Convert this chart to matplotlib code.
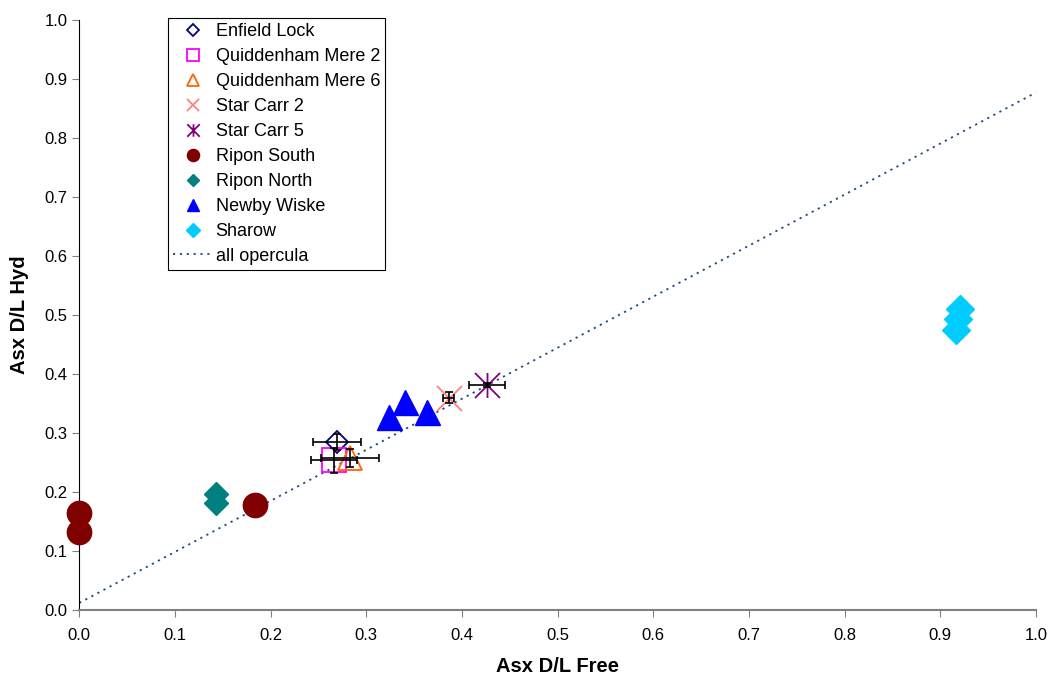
import matplotlib
matplotlib.use('Agg')
import matplotlib.pyplot as plt
from matplotlib.path import Path

plt.rcParams['font.family'] = ['Liberation Sans', 'DejaVu Sans']

# --- datos ---
enfield_x = [0.269]
enfield_y = [0.285]
enfield_xerr = [0.025]
enfield_yerr = [0.013]

qm2_x = [0.266]
qm2_y = [0.254]
qm2_xerr = [0.024]
qm2_yerr = [0.021]

qm6_x = [0.283]
qm6_y = [0.258]
qm6_xerr = [0.030]
qm6_yerr = [0.015]

sc2_x = [0.386]
sc2_y = [0.360]
sc2_xerr = [0.006]
sc2_yerr = [0.009]

sc5_x = [0.426]
sc5_y = [0.381]
sc5_xerr = [0.019]
sc5_yerr = [0.003]

ripon_s_x = [0.0, 0.0, 0.184]
ripon_s_y = [0.164, 0.132, 0.178]

ripon_n_x = [0.143, 0.143]
ripon_n_y = [0.197, 0.182]

newby_x = [0.324, 0.340, 0.364]
newby_y = [0.327, 0.352, 0.335]

sharow_x = [0.921, 0.919, 0.917]
sharow_y = [0.511, 0.493, 0.475]

# linea "all opercula"
linea_x = [0.0, 1.0]
linea_y = [0.012, 0.877]

# marcador asterisco (X + linea vertical) como en Excel
asterisco = Path([(-1, -1), (1, 1), (-1, 1), (1, -1), (0, -1), (0, 1)],
                 [Path.MOVETO, Path.LINETO, Path.MOVETO, Path.LINETO, Path.MOVETO, Path.LINETO])

fig = plt.figure(figsize=(10.5, 6.76), dpi=100)
ax = fig.add_axes([0.0755, 0.0976, 0.911, 0.8728])

ax.plot(enfield_x, enfield_y, linestyle='none', marker='D', ms=11.5, mfc='none',
        mec='#000080', mew=1.3, label='Enfield Lock', zorder=3)
ax.plot(qm2_x, qm2_y, linestyle='none', marker='s', ms=17, mfc='none',
        mec='#FF00FF', mew=1.3, label='Quiddenham Mere 2', zorder=3)
ax.plot(qm6_x, qm6_y, linestyle='none', marker='^', ms=17, mfc='none',
        mec='#FF6600', mew=1.3, label='Quiddenham Mere 6', zorder=3)
ax.plot(sc2_x, sc2_y, linestyle='none', marker='x', ms=18, mec='#FF8080',
        mew=1.3, label='Star Carr 2', zorder=3)
ax.plot(sc5_x, sc5_y, linestyle='none', marker=asterisco, ms=18, mec='#800080',
        mew=1.3, label='Star Carr 5', zorder=3)
ax.plot(ripon_s_x, ripon_s_y, linestyle='none', marker='o', ms=17.5, color='#800000',
        label='Ripon South', zorder=3, clip_on=False)
ax.plot(ripon_n_x, ripon_n_y, linestyle='none', marker='D', ms=12.7, color='#008080',
        label='Ripon North', zorder=3)
ax.plot(newby_x, newby_y, linestyle='none', marker='^', ms=18, color='#0000FF',
        label='Newby Wiske', zorder=3)
ax.plot(sharow_x, sharow_y, linestyle='none', marker='D', ms=14, color='#00CCFF',
        label='Sharow', zorder=3)
ax.plot(linea_x, linea_y, linestyle=(0, (1.2, 2.6)), color='#1F497D', lw=1.3,
        label='all opercula', zorder=2)

# barras de error
for xs, ys, xe, ye in [(enfield_x, enfield_y, enfield_xerr, enfield_yerr),
                       (qm2_x, qm2_y, qm2_xerr, qm2_yerr),
                       (qm6_x, qm6_y, qm6_xerr, qm6_yerr),
                       (sc2_x, sc2_y, sc2_xerr, sc2_yerr),
                       (sc5_x, sc5_y, sc5_xerr, sc5_yerr)]:
    ax.errorbar(xs, ys, xerr=xe, yerr=ye, fmt='none', ecolor='black',
                elinewidth=1.2, capsize=2.6, capthick=1.2, zorder=4)

ax.set_xlim(0, 1.0)
ax.set_ylim(0, 1.0)
ax.set_xticks([i / 10 for i in range(11)])
ax.set_yticks([i / 10 for i in range(11)])
ax.xaxis.set_major_formatter(matplotlib.ticker.FormatStrFormatter('%.1f'))
ax.yaxis.set_major_formatter(matplotlib.ticker.FormatStrFormatter('%.1f'))
ax.tick_params(axis='both', labelsize=12, length=5, color='#808080', direction='out')
ax.tick_params(axis='x', pad=8)

ax.spines['top'].set_visible(False)
ax.spines['right'].set_visible(False)
ax.spines['left'].set_color('black')
ax.spines['bottom'].set_color('#808080')
ax.spines['bottom'].set_linewidth(1.5)

ax.set_xlabel('Asx D/L Free', fontsize=14.5, fontweight='bold', labelpad=10)
ax.set_ylabel('Asx D/L Hyd', fontsize=14.5, fontweight='bold', labelpad=11)

leg = ax.legend(loc='upper left', bbox_to_anchor=(0.093, 1.003), borderaxespad=0,
                fontsize=13, markerscale=0.5, handlelength=2.17, handletextpad=0.17,
                borderpad=0.28, labelspacing=0.44, fancybox=False,
                edgecolor='black', framealpha=1)
leg.get_frame().set_linewidth(0.8)

fig.savefig('out.png', dpi=100)
